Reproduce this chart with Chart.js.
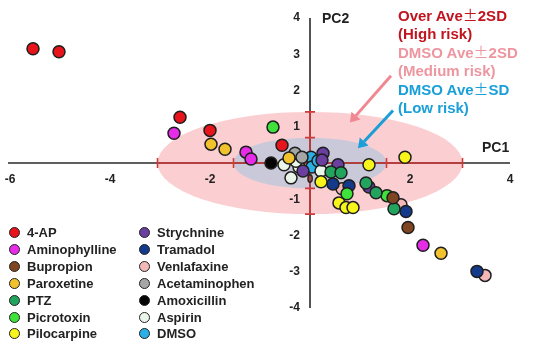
<!DOCTYPE html>
<html><head><meta charset="utf-8">
<script src="https://cdn.jsdelivr.net/npm/chart.js@4/dist/chart.umd.min.js"></script>
<style>
html,body{margin:0;padding:0;background:#fff;}
#wrap{position:relative;width:535px;height:350px;}
canvas{position:absolute;left:0;top:0;}
.lg{position:absolute;font:bold 13px "Liberation Sans",Arial,sans-serif;color:#222;white-space:nowrap;line-height:14px;}
.lg i{position:absolute;width:9px;height:9px;border:1.5px solid #222;border-radius:50%;left:-18px;top:1px;}
.an{position:absolute;left:398px;font:bold 15px "Liberation Sans",Arial,sans-serif;white-space:nowrap;line-height:18.6px;}
.an b{font-family:"Noto Sans CJK JP",sans-serif;font-weight:400;}
</style></head>
<body><div id="wrap"><canvas id="c" width="535" height="350"></canvas><div id="legend"></div><div id="notes"></div></div>
<script>
// ---- data ----
const drugNames = ["4-AP","Aminophylline","Bupropion","Paroxetine","PTZ","Picrotoxin","Pilocarpine","Strychnine","Tramadol","Venlafaxine","Acetaminophen","Amoxicillin","Aspirin","DMSO"];
const drugColors = ["#e8141c","#e62ce6","#7f4420","#f2c12e","#22a45e","#3ee23a","#f7f51c","#6b3fa0","#143a8c","#f3b9b9","#a6a6a6","#050505","#eaf6ea","#2ab0e4"];
const ap4 = [[-5.54,3.15],[-5.02,3.07],[-2.60,1.26],[-2.00,0.90],[-0.56,0.49]];
const aminophylline = [[-2.72,0.82],[-1.28,0.30],[-1.18,0.11],[2.26,-2.27]];
const bupropion = [[1.66,-0.96],[1.96,-1.78]];
const paroxetine = [[-1.98,0.52],[-1.70,0.38],[-0.42,0.14],[2.62,-2.49]];
const ptz = [[0.42,-0.25],[0.62,-0.27],[1.12,-0.55],[1.32,-0.82],[1.68,-1.26]];
const picrotoxin = [[-0.74,0.99],[0.74,-0.85],[1.54,-0.90]];
const pilocarpine = [[0.22,-0.52],[0.58,-1.10],[0.72,-1.23],[0.86,-1.23],[1.18,-0.05],[1.90,0.16]];
const strychnine = [[-0.14,-0.22],[0.26,0.27],[0.24,0.08],[0.56,-0.05],[1.18,-0.66]];
const tramadol = [[0.46,-0.58],[0.78,-0.63],[1.92,-1.34],[3.34,-2.99]];
const venlafaxine = [[0.64,-0.71],[1.82,-1.15],[3.50,-3.10]];
const acetaminophen = [[-0.30,0.27],[-0.16,0.16]];
const amoxicillin = [[-0.78,0.00]];
const aspirin = [[-0.52,-0.05],[-0.38,-0.41],[-0.22,-0.11],[0.22,-0.22],[-0.28,0.05]];
const dmso = [[0.02,0.16],[0.04,-0.11],[0.16,0.06]];
const drugValues = [ap4,aminophylline,bupropion,paroxetine,ptz,picrotoxin,pilocarpine,strychnine,tramadol,venlafaxine,acetaminophen,amoxicillin,aspirin,dmso];
const xTickLabels = [-6,-4,-2,0,2,4];
const yTickLabels = [4,3,2,1,-1,-2,-3,-4];
const sd1 = [1.53, 0.70];   // DMSO Ave ± SD  (PC1, PC2)
const sd2 = [3.05, 1.41];   // DMSO Ave ± 2SD (PC1, PC2)
const notes = [["Over Ave\u00b12SD","#c0141e"],["(High risk)","#c0141e"],["DMSO Ave\u00b12SD","#ee96a0"],["(Medium risk)","#ee96a0"],["DMSO Ave\u00b1SD","#1aa0d8"],["(Low risk)","#1aa0d8"]];
const arrows = [[[1.62,2.41],[0.80,1.12],"#f08892"],[[1.66,1.45],[0.96,0.41],"#1a9ed8"]];

// ---- legend & notes (HTML text) ----
const lg = document.getElementById('legend');
drugNames.forEach((n,i)=>{
  const col = i<7?0:1, row = i%7;
  const d = document.createElement('div');
  d.className='lg';
  d.style.left = (col?157:27)+'px';
  d.style.top = (226+row*16.9)+'px';
  d.innerHTML = '<i style="background:'+drugColors[i]+'"></i>'+n;
  lg.appendChild(d);
});
const nt = document.getElementById('notes');
notes.forEach((t,i)=>{
  const d=document.createElement('div');d.className='an';
  d.style.top=(6+i*18.6)+'px';d.style.color=t[1];
  const parts=t[0].split('\u00b1');
  d.textContent=parts[0];
  if(parts.length>1){const b=document.createElement('b');b.textContent='\u00b1';d.appendChild(b);d.appendChild(document.createTextNode(parts[1]));}
  nt.appendChild(d);
});

// ---- background plugin: ellipses, axes, ticks, arrows ----
const backdrop = {
  id:'backdrop',
  beforeDatasetsDraw(chart){
    const {ctx, scales:{x,y}} = chart;
    const cx=x.getPixelForValue(0), cy=y.getPixelForValue(0);
    ctx.save();
    // ellipses
    ctx.fillStyle='#fbcfd2';
    ctx.beginPath();ctx.ellipse(cx,cy,x.getPixelForValue(sd2[0])-cx,cy-y.getPixelForValue(sd2[1]),0,0,Math.PI*2);ctx.fill();
    ctx.fillStyle='#c9c9da';
    ctx.beginPath();ctx.ellipse(cx,cy,x.getPixelForValue(sd1[0])-cx,cy-y.getPixelForValue(sd1[1]),0,0,Math.PI*2);ctx.fill();
    // axes
    ctx.strokeStyle='#2a2a2a';ctx.lineWidth=1.6;
    ctx.beginPath();
    ctx.moveTo(x.getPixelForValue(-6)-2,cy);ctx.lineTo(x.getPixelForValue(4),cy);
    ctx.moveTo(cx,y.getPixelForValue(4));ctx.lineTo(cx,y.getPixelForValue(-4));
    ctx.stroke();
    // red SD overlays
    ctx.strokeStyle='#d03a3a';ctx.lineWidth=1.6;
    ctx.beginPath();
    ctx.moveTo(x.getPixelForValue(-sd2[0]),cy);ctx.lineTo(x.getPixelForValue(sd2[0]),cy);
    ctx.moveTo(cx,y.getPixelForValue(sd2[1]));ctx.lineTo(cx,y.getPixelForValue(-sd2[1]));
    [-sd2[0],-sd1[0],sd1[0],sd2[0]].forEach(v=>{const p=x.getPixelForValue(v);ctx.moveTo(p,cy-5);ctx.lineTo(p,cy+5);});
    [-sd2[1],-sd1[1],sd1[1],sd2[1]].forEach(v=>{const p=y.getPixelForValue(v);ctx.moveTo(cx-5,p);ctx.lineTo(cx+5,p);});
    ctx.stroke();
    // tick labels
    ctx.fillStyle='#222';ctx.font='bold 12px "Liberation Sans",Arial,sans-serif';
    ctx.textAlign='center';ctx.textBaseline='middle';
    xTickLabels.forEach(v=>ctx.fillText(String(v),x.getPixelForValue(v),cy+17));
    ctx.textAlign='right';
    yTickLabels.forEach(v=>ctx.fillText(String(v),cx-10,y.getPixelForValue(v)));
    // axis titles
    ctx.font='bold 14px "Liberation Sans",Arial,sans-serif';ctx.textAlign='left';
    ctx.fillText('PC2',cx+12,y.getPixelForValue(4)+1);
    ctx.fillText('PC1',x.getPixelForValue(3.44),cy-15);
    // arrows
    arrows.forEach(([a,b,c])=>{
      const x1=x.getPixelForValue(a[0]),y1=y.getPixelForValue(a[1]),x2=x.getPixelForValue(b[0]),y2=y.getPixelForValue(b[1]);
      const ang=Math.atan2(y2-y1,x2-x1);
      const hx=x2-9*Math.cos(ang), hy=y2-9*Math.sin(ang);
      ctx.strokeStyle=c;ctx.fillStyle=c;ctx.lineWidth=3;
      ctx.beginPath();ctx.moveTo(x1,y1);ctx.lineTo(hx,hy);ctx.stroke();
      ctx.beginPath();ctx.moveTo(x2,y2);
      ctx.lineTo(hx+6*Math.cos(ang+Math.PI/2),hy+6*Math.sin(ang+Math.PI/2));
      ctx.lineTo(hx-6*Math.cos(ang+Math.PI/2),hy-6*Math.sin(ang+Math.PI/2));
      ctx.closePath();ctx.fill();
    });
    ctx.restore();
  }
};

new Chart(document.getElementById('c'),{
  type:'scatter',
  data:{datasets: drugNames.map((n,i)=>({
    label:n,
    data: drugValues[i].map(p=>({x:p[0],y:p[1]})),
    backgroundColor: drugColors[i],
    borderColor:'#1e1e1e',
    borderWidth:1.5,
    pointRadius:6,
    pointHoverRadius:6
  }))},
  options:{
    responsive:false,animation:false,
    layout:{padding:{left:10,right:25,top:18,bottom:42}},
    scales:{
      x:{type:'linear',min:-6,max:4,display:false},
      y:{type:'linear',min:-4,max:4,display:false}
    },
    plugins:{legend:{display:false},tooltip:{enabled:false}},
    clip:false
  },
  plugins:[backdrop]
});
</script>
</body></html>
